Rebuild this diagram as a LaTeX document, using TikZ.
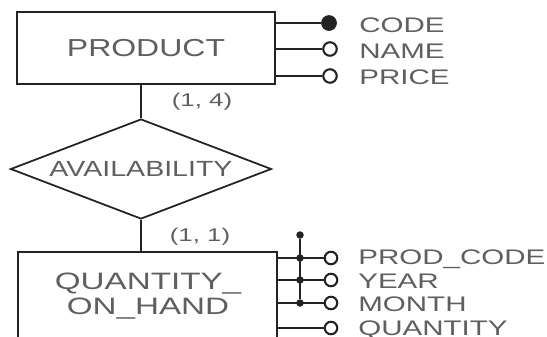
\documentclass[tikz,border=0pt]{standalone}
\usepackage{fontspec}
\usepackage{tikz}
\usetikzlibrary{positioning,shapes.geometric,calc}
\newfontfamily\erfont[FakeStretch=1.3]{Liberation Sans}
\newfontfamily\attrfont[FakeStretch=1.4]{Liberation Sans}
\definecolor{inkgray}{RGB}{35,35,35}
\definecolor{textgray}{RGB}{95,95,95}
\tikzset{
  entity/.style={draw=inkgray,line width=1.2pt,minimum width=5.16cm,minimum height=1.44cm,
    inner sep=0pt,font=\erfont\fontsize{14}{17}\selectfont,text=textgray,align=center},
  entitytext/.style={inner sep=0pt,font=\attrfont\fontsize{13.5}{14.7}\selectfont,text=textgray,align=center},
  relation/.style={draw=inkgray,line width=1pt,diamond,aspect=2.6,minimum width=5.22cm,minimum height=2cm,
    inner sep=0pt,font=\erfont\fontsize{12.5}{15}\selectfont,text=textgray},
  keydot/.style={circle,fill=inkgray,draw=inkgray,minimum size=0.3cm,inner sep=0pt},
  attrdot/.style={circle,fill=white,draw=inkgray,line width=1.2pt,minimum size=0.27cm,inner sep=0pt},
  attrdotsm/.style={attrdot,minimum size=0.25cm},
  attrlabel/.style={anchor=west,inner sep=0pt,font=\attrfont\fontsize{12}{14}\selectfont,text=textgray},
  cardlabel/.style={font=\attrfont\fontsize{10.5}{12}\selectfont,text=textgray,inner sep=1pt},
  joint/.style={circle,fill=inkgray,minimum size=0.15cm,inner sep=0pt},
  link/.style={line width=1.2pt,draw=inkgray}
}
\begin{document}
\begin{tikzpicture}[x=0.02cm,y=-0.02cm]
  \useasboundingbox (0,0) rectangle (547,336);
  \clip (0,0) rectangle (547,336);
  % PRODUCT and its attributes
  \node[entity] (product) at (146,48) {PRODUCT};
  \node[keydot] (code) at (329,23) {};
  \node[attrdot] (name) at (330,49) {};
  \node[attrdot] (price) at (330,76) {};
  \node[attrlabel] (codetxt) at (359,25) {CODE};
  \node[attrlabel] (nametxt) at (359,51) {NAME};
  \node[attrlabel] (pricetxt) at (359,77) {PRICE};
  \draw[link] (product.east |- code) -- (code);
  \draw[link] (product.east |- name) -- (name);
  \draw[link] (product.east |- price) -- (price);
  % relationship
  \node[relation] (avail) at (141,169) {AVAILABILITY};
  \draw[link] (avail.north) -- (avail.north |- product.south);
  \node[cardlabel] (card14) at (202,102) {(1, 4)};
  % QUANTITY_ON_HAND and its attributes
  \node[entity,minimum width=5.18cm,minimum height=2.36cm] (qoh) at (147.5,311) {};
  \node[entitytext] (qohtxt) at (148,296) {QUANTITY\_\\ON\_HAND};
  \draw[link] (avail.south) -- (avail.south |- qoh.north);
  \node[cardlabel] (card11) at (200,237) {(1, 1)};
  \node[attrdotsm] (prodcode) at (331,258) {};
  \node[attrdotsm] (year) at (331,280) {};
  \node[attrdotsm] (month) at (331,303) {};
  \node[attrdotsm] (qty) at (331,328) {};
  \node[attrlabel] (prodcodetxt) at (358,259) {PROD\_CODE};
  \node[attrlabel] (yeartxt) at (358,281) {YEAR};
  \node[attrlabel] (monthtxt) at (358,304) {MONTH};
  \node[attrlabel] (qtytxt) at (358,330) {QUANTITY};
  \draw[link] (qoh.east |- prodcode) -- (prodcode);
  \draw[link] (qoh.east |- year) -- (year);
  \draw[link] (qoh.east |- month) -- (month);
  \draw[link] (qoh.east |- qty) -- (qty);
  % composite key bar
  \node[joint] (keytop) at (300,235) {};
  \node[joint] (j1) at (300,258) {};
  \node[joint] (j2) at (300,280) {};
  \node[joint] (j3) at (300,303) {};
  \draw[link] (keytop) -- (j3);
\end{tikzpicture}
\end{document}
